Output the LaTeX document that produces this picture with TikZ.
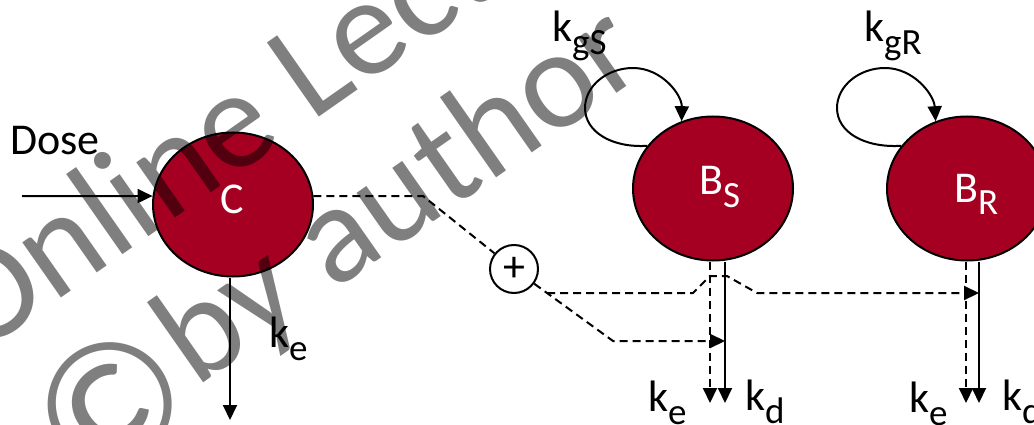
\documentclass[tikz,border=0pt]{standalone}
\usepackage{fontspec}
\setmainfont{Carlito}
\usetikzlibrary{arrows.meta,shapes.geometric}
\definecolor{compred}{RGB}{165,0,33}
% lowered, slightly smaller index text
\newcommand\lowsub[1]{\raisebox{-13pt}{\fontsize{37}{37}\selectfont #1}}

\begin{document}
\begin{tikzpicture}[x=1pt,y=-1pt,
  comp/.style={ellipse, draw=black, line width=2pt, fill=compred,
    minimum width=160pt, minimum height=144pt, inner sep=0pt},
  lbl/.style={anchor=base west, inner sep=0pt, font=\fontsize{44}{50}\selectfont},
  inlbl/.style={lbl, text=white},
  flow/.style={line width=2pt, -{Triangle[length=15pt,width=14pt]}},
  sigline/.style={line width=2pt, dash pattern=on 8pt off 5pt},
  signal/.style={sigline, -{Triangle[length=15pt,width=14pt]}},
  sumnode/.style={circle, draw=black, line width=2pt, fill=white,
    minimum size=48pt, inner sep=0pt, font=\fontsize{44}{50}\selectfont},
  wmark/.style={anchor=base west, inner sep=0pt, rotate=35, text=black,
    text opacity=0.5, font=\fontsize{141}{150}\selectfont}
]
\fill[white] (0,0) rectangle (1034,425);
\useasboundingbox (0,0) rectangle (1034,425);

% compartments
\node[comp] (C)  at (233,204.5) {};
\node[comp] (BS) at (713,188.5) {};
\node[comp] (BR) at (967,188.5) {};
\node[sumnode] (sum) at (514,269) {+};

% labels
\node[lbl] (doseTxt) at (10,155) {Dose};
\node[inlbl] (Ctxt) at (220,213) {C};
\node[inlbl] (BStxt) at (699,195) {B\lowsub{S}};
\node[inlbl] (BRtxt) at (954,202) {B\lowsub{R}};
\node[lbl] (keC) at (269,347) {k\lowsub{e}};
\node[lbl] (kgS) at (552,42) {k\lowsub{gS}};
\node[lbl] (kgR) at (864,42) {k\lowsub{gR}};
\node[lbl] (keS) at (648,411) {k\lowsub{e}};
\node[lbl] (kdS) at (745,410) {k\lowsub{d}};
\node[lbl] (keR) at (909,412) {k\lowsub{e}};
\node[lbl] (kdR) at (1002,410) {k\lowsub{d}};

% helper points
\coordinate (doseStart) at (22,196);
\coordinate (cOut) at (230,420);
\coordinate (elbow) at (423,196);
\coordinate (bend) at (613,341);
\coordinate (tipS) at (725,341);
\coordinate (branch) at (547,293);
\coordinate (hopA) at (693,293);
\coordinate (hopB) at (710,276);
\coordinate (hopC) at (727,276);
\coordinate (hopD) at (757,293);
\coordinate (tipR) at (979,293);
\coordinate (dS) at (710,403);
\coordinate (sS) at (725,403);
\coordinate (dR) at (966,403);
\coordinate (sR) at (979,403);

% dosing and elimination of C
\draw[flow] (doseStart) -- (C.174);
\draw[flow] (C.south -| cOut) -- (cOut);

% drug effect signal
\draw[sigline] (C.6) -- (elbow) -- (sum);
\draw[signal] (sum) -- (bend) -- (tipS);
\draw[signal] (branch) -- (hopA) -- (hopB) -- (hopC) -- (hopD) -- (tipR);

% outflows of the bacterial compartments
\draw[signal] (BS.south -| dS) -- (dS);
\draw[flow] (BS.south -| sS) -- (sS);
\draw[signal] (BR.south -| dR) -- (dR);
\draw[flow] (BR.south -| sR) -- (sR);

% growth loops
\draw[flow] (BS.147) .. controls (612,148) and (585,132) .. (585,108)
  .. controls (585,86) and (607,68) .. (633,68)
  .. controls (662,68) and (682,95) .. (BS.115);
\draw[flow] (BR.147) .. controls (864,148) and (837,132) .. (837,108)
  .. controls (837,86) and (859,68) .. (885,68)
  .. controls (914,68) and (934,95) .. (BR.115);

% watermark
\node[wmark] (wm1) at (-23,357) {Online Lecture};
\node[wmark] (wm2) at (195,389) {by author};
\node[wmark, anchor=center, font=\fontsize{180}{180}\selectfont] (wmc) at (110,405) {©};
\end{tikzpicture}
\end{document}
